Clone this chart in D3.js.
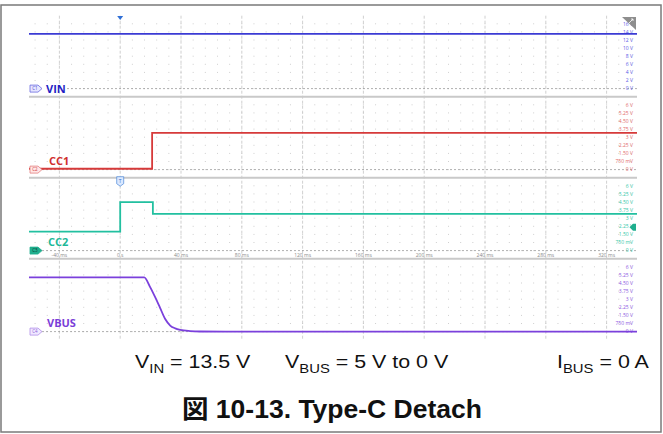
<!DOCTYPE html>
<html><head><meta charset="utf-8">
<script src="https://cdn.jsdelivr.net/npm/d3@7"></script>
<style>html,body{margin:0;padding:0;background:#fff;} svg{display:block;}</style>
</head><body><svg id="chart" width="663" height="434"></svg>
<script>
// Time axis (ms)
const timeTicks = [-40, 0, 40, 80, 120, 160, 200, 240, 280, 320];
const timeTickLabels = ["-40 ms", "0 s", "40 ms", "80 ms", "120 ms", "160 ms", "200 ms", "240 ms", "280 ms", "320 ms"];

// Channels
const channelNames = ["VIN", "CC1", "CC2", "VBUS"];
const channelTags = ["C1", "C2", "C3", "C4"];

// Vertical scale labels (top to bottom)
const vinScaleLabels = ["16 V", "14 V", "12 V", "10 V", "8 V", "6 V", "4 V", "2 V", "0 V"];
const ccScaleLabels = ["6 V", "5.25 V", "4.50 V", "3.75 V", "3 V", "2.25 V", "1.50 V", "750 mV", "0 V"];

// Waveforms: time (ms) and volts
const vinTime = [-60, 340];
const vinVolts = [13.5, 13.5];
const cc1Time = [-60, 21, 21, 340];
const cc1Volts = [0.08, 0.08, 3.4, 3.4];
const cc2Time = [-60, 0, 0, 21.5, 21.5, 340];
const cc2Volts = [1.75, 1.75, 4.48, 4.48, 3.4, 3.4];
const vbusTime = [-60, 15.8, 19.7, 23, 26.3, 29.6, 32.9, 36.2, 39.5, 46, 52.6, 70, 340];
const vbusVolts = [5.02, 5.02, 4.12, 3.19, 2.18, 1.16, 0.56, 0.30, 0.16, 0.05, 0.01, 0, 0];
const cc2TriggerLevel = 2.17;

const svg = d3.select("#chart");
svg.append("rect").attr("width", 663).attr("height", 434).attr("fill", "#fff");

// outer frame
svg.append("rect").attr("x", 1).attr("y", 5).attr("width", 660).attr("height", 427)
  .attr("fill", "none").attr("stroke", "#7a7a7a").attr("stroke-width", 1.5);

const x = d3.scaleLinear().domain([-60, 340]).range([29, 637]);
const panelTop0 = 15.7, panelH = 81, rowH = panelH / 10;

const panels = [
  {name: channelNames[0], tag: channelTags[0], lo: -2, hi: 18, labels: vinScaleLabels, t: vinTime, v: vinVolts,
   color: "#3b3bd4", labelColor: "#1f1fc4", scaleColor: "#5a5ae6", tagFill: "#e6e6ff", tagStroke: "#6a6ae0", tagText: "#4a4ad0"},
  {name: channelNames[1], tag: channelTags[1], lo: -0.75, hi: 6.75, labels: ccScaleLabels, t: cc1Time, v: cc1Volts,
   color: "#d63a3a", labelColor: "#d02e2e", scaleColor: "#e26a6a", tagFill: "#ffe6e6", tagStroke: "#e48080", tagText: "#d04040"},
  {name: channelNames[2], tag: channelTags[2], lo: -0.75, hi: 6.75, labels: ccScaleLabels, t: cc2Time, v: cc2Volts,
   color: "#22c0a0", labelColor: "#1db898", scaleColor: "#35c8a8", tagFill: "#1fae8e", tagStroke: "#1fae8e", tagText: "#0b3b30"},
  {name: channelNames[3], tag: channelTags[3], lo: -0.75, hi: 6.75, labels: ccScaleLabels, t: vbusTime, v: vbusVolts,
   color: "#7b40dc", labelColor: "#7a3ed8", scaleColor: "#8c58e2", tagFill: "#f1e9ff", tagStroke: "#b08ee8", tagText: "#8a60d8"}
];
panels.forEach((p, i) => {
  p.top = panelTop0 + panelH * i;
  p.y = d3.scaleLinear().domain([p.lo, p.hi]).range([p.top + panelH, p.top]);
});
const plotBottom = panelTop0 + panelH * 4;

// dotted minor grid
const gGrid = svg.append("g");
const minorTimes = d3.range(-56, 340, 8);
panels.forEach(p => {
  for (let k = 1; k <= 9; k++) {
    minorTimes.forEach(t => {
      gGrid.append("rect").attr("x", x(t) - 0.5).attr("y", p.top + rowH * k - 0.5)
        .attr("width", 1).attr("height", 1).attr("fill", "#cfcfcf");
    });
  }
});

// major vertical dashed grid
gGrid.selectAll("line.v").data(timeTicks).join("line")
  .attr("x1", d => x(d)).attr("x2", d => x(d))
  .attr("y1", panelTop0).attr("y2", plotBottom)
  .attr("stroke", "#c4c4c4").attr("stroke-width", 0.8).attr("stroke-dasharray", "3,2");

// panel separators
[1, 2, 3].forEach(i => {
  svg.append("line").attr("x1", 29).attr("x2", 637)
    .attr("y1", panelTop0 + panelH * i).attr("y2", panelTop0 + panelH * i)
    .attr("stroke", "#c9c9c9").attr("stroke-width", 2);
});

// zero reference lines
panels.forEach((p, i) => {
  svg.append("line").attr("x1", i === 0 ? 67 : 42).attr("x2", 637)
    .attr("y1", p.y(0)).attr("y2", p.y(0))
    .attr("stroke", "#9a9a9a").attr("stroke-width", 0.8).attr("stroke-dasharray", "2,2");
});

// time axis labels (bottom of CC2 panel)
svg.append("g").selectAll("text").data(timeTicks).join("text")
  .attr("x", d => x(d)).attr("y", panels[2].top + panelH - 1.6)
  .attr("text-anchor", "middle").attr("font-family", "Open Sans, sans-serif")
  .attr("font-size", 5).attr("fill", "#8a8a8a")
  .text((d, i) => timeTickLabels[i]);

// vertical scale labels on the right
panels.forEach(p => {
  svg.append("g").selectAll("text").data(p.labels).join("text")
    .attr("x", 633).attr("y", (d, k) => p.top + rowH * (k + 1) + 1.8)
    .attr("text-anchor", "end").attr("font-family", "Open Sans, sans-serif")
    .attr("font-size", 5).attr("fill", p.scaleColor)
    .text(d => d);
});

// traces
panels.forEach(p => {
  const pts = p.t.map((t, j) => [t, p.v[j]]);
  const curve = p.name === "VBUS" ? d3.curveMonotoneX : d3.curveLinear;
  svg.append("path").datum(pts)
    .attr("d", d3.line().x(d => x(d[0])).y(d => p.y(d[1])).curve(curve))
    .attr("fill", "none").attr("stroke", p.color).attr("stroke-width", 1.8);
});

// channel tags and names
panels.forEach((p, i) => {
  const y0 = p.y(0);
  svg.append("path")
    .attr("d", `M30,${y0 - 3.5} h8 l4,3.5 l-4,3.5 h-8 z`)
    .attr("fill", p.tagFill).attr("stroke", p.tagStroke).attr("stroke-width", 0.8);
  svg.append("text").attr("x", 35).attr("y", y0 + 1.7).attr("text-anchor", "middle")
    .attr("font-family", "Open Sans, sans-serif").attr("font-size", 4.5)
    .attr("fill", p.tagText).text(p.tag);
  const labelX = [46, 49, 48, 47][i];
  const labelY = i === 0 ? y0 + 4 : y0 - 4.5;
  svg.append("text").attr("x", labelX).attr("y", labelY)
    .attr("font-family", "Open Sans, sans-serif").attr("font-weight", 700)
    .attr("font-size", 11).attr("fill", p.labelColor).text(p.name);
});

// trigger position marker (top)
svg.append("path").attr("d", `M${x(0) - 3},16 h6 l-3,4 z`).attr("fill", "#2f6fd6");
// trigger marker on CC2 panel
const tx = x(0), ty = panels[2].top;
svg.append("path").attr("d", `M${tx - 3.5},${ty - 1} h7 v7 l-3.5,2.5 l-3.5,-2.5 z`)
  .attr("fill", "#dbe9ff").attr("stroke", "#4a86d8").attr("stroke-width", 0.7);
svg.append("text").attr("x", tx).attr("y", ty + 4.8).attr("text-anchor", "middle")
  .attr("font-family", "Open Sans, sans-serif").attr("font-size", 5).attr("fill", "#3a6fc8").text("T");

// trigger level arrow on CC2
const tl = panels[2].y(cc2TriggerLevel);
svg.append("path").attr("d", `M636,${tl - 3.5} v7 h-3 l-3.5,-3.5 l3.5,-3.5 z`).attr("fill", "#1fae8e");

// corner icon
svg.append("path").attr("d", "M622,17 H636 V30 Z").attr("fill", "#8e8e8e");
svg.append("path").attr("d", "M629,23 L633,19 M631,19 h2 v2").attr("stroke", "#fff").attr("stroke-width", 0.8).attr("fill", "none");

// conditions text (slightly wide face)
const condFont = "Liberation Sans, Arial, sans-serif";
function cond(xPos, main, sub, rest) {
  const t = svg.append("text")
    .attr("transform", `translate(${xPos},368) scale(1.19,1)`)
    .attr("font-family", condFont).attr("font-size", 18).attr("fill", "#111");
  t.append("tspan").text(main);
  t.append("tspan").attr("font-size", 12.5).attr("dy", 4.5).text(sub);
  t.append("tspan").attr("dy", -4.5).text(rest);
}
cond(135, "V", "IN", " = 13.5 V");
cond(285, "V", "BUS", " = 5 V to 0 V");
cond(557, "I", "BUS", " = 0 A");

// caption
svg.append("text").attr("x", 182).attr("y", 418)
  .attr("font-family", "Liberation Sans, Arial, 'Noto Sans CJK JP', sans-serif")
  .attr("font-weight", 700).attr("font-size", 25).attr("fill", "#111")
  .attr("textLength", 300).attr("lengthAdjust", "spacingAndGlyphs")
  .text("図 10-13. Type-C Detach");
</script></body></html>
